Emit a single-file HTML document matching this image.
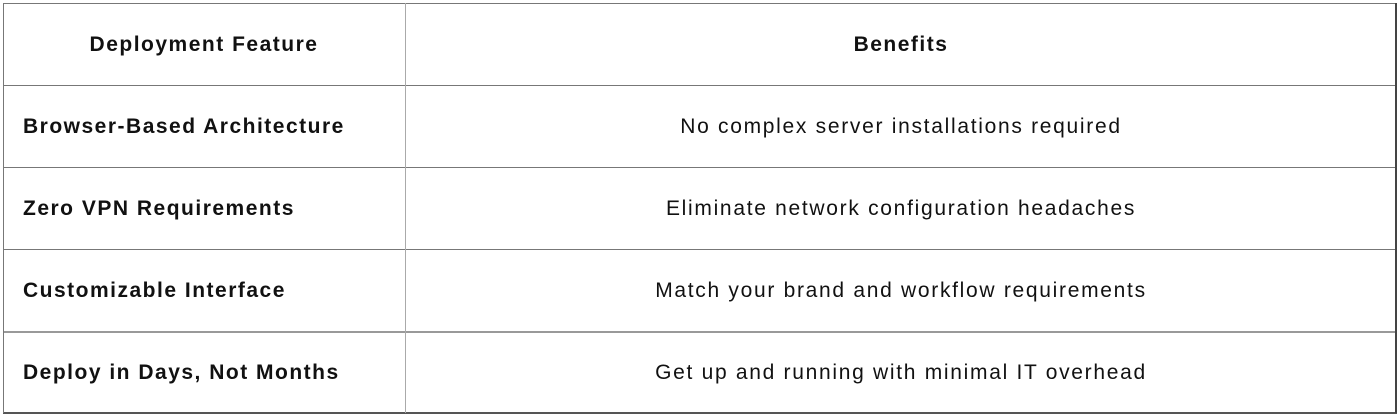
<!DOCTYPE html>
<html><head><style>
body{margin:0;width:1400px;height:418px;background:#fff;position:relative;overflow:hidden;font-family:"Liberation Sans",sans-serif;color:#111}
.h{position:absolute;height:1px;background:#777;left:3px;width:1394px}
.v{position:absolute;width:1px;background:#777;top:3px;height:410px}
.t{position:absolute;font-size:21px;line-height:24px;white-space:nowrap;letter-spacing:1.7px}
.b{font-weight:bold;letter-spacing:1.5px}
.c1{left:3px;width:402px;text-align:center}
.c2{left:406px;width:990px;text-align:center}
.l{left:23px}
</style></head><body>
<div class="h" style="top:3px"></div>
<div class="h" style="top:85px"></div>
<div class="h" style="top:167px"></div>
<div class="h" style="top:249px"></div>
<div class="h" style="top:331px;background:#999;height:2px"></div>
<div class="h" style="top:412px;background:#555;height:2px"></div>
<div class="v" style="left:3px"></div>
<div class="v" style="left:405px;background:#aaa"></div>
<div class="v" style="left:1395px;background:#444;width:2px"></div>
<div class="t b c1" style="top:33px">Deployment Feature</div>
<div class="t b c2" style="top:33px">Benefits</div>
<div class="t b l" style="top:115px">Browser-Based Architecture</div>
<div class="t c2" style="top:115px">No complex server installations required</div>
<div class="t b l" style="top:197px">Zero VPN Requirements</div>
<div class="t c2" style="top:197px">Eliminate network configuration headaches</div>
<div class="t b l" style="top:279px">Customizable Interface</div>
<div class="t c2" style="top:279px">Match your brand and workflow requirements</div>
<div class="t b l" style="top:361px">Deploy in Days, Not Months</div>
<div class="t c2" style="top:361px">Get up and running with minimal IT overhead</div>
</body></html>
